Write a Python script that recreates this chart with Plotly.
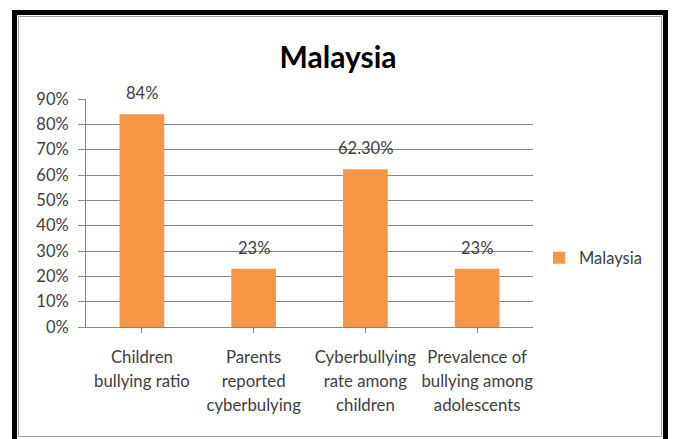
import plotly.graph_objects as go

# Survey figures for Malaysia
categories = [
    "Children<br>bullying ratio",
    "Parents<br>reported<br>cyberbulying",
    "Cyberbullying<br>rate among<br>children",
    "Prevalence of<br>bullying among<br>adolescents",
]
values = [0.84, 0.23, 0.623, 0.23]
value_labels = ["84%", "23%", "62.30%", "23%"]
series_name = "Malaysia"
chart_title = "Malaysia"

W, H = 677, 439
L, R, T, B = 86, 144, 99, 112

FONT = "Lato"
TEXT = "#404040"
GRID = "#868686"
ORANGE = "#F79646"


def px_x(p):
    return (p - L) / (W - L - R)


def px_y(q):
    return (H - B - q) / (H - T - B)


# wrap tick text so line spacing follows a larger outer font size
tick_text = ["<span style='font-size:16.8px'>%s</span>" % c for c in categories]

fig = go.Figure(
    go.Bar(
        x=list(range(len(categories))),
        y=values,
        name=series_name,
        marker=dict(color=ORANGE, line=dict(width=0)),
        width=0.4,
        showlegend=True,
        hoverinfo="skip",
    )
)

# value labels sitting above each bar
for i, (v, lab) in enumerate(zip(values, value_labels)):
    fig.add_annotation(
        x=i, y=v, xref="x", yref="y",
        text=lab, showarrow=False,
        xanchor="center", yanchor="bottom", yshift=9,
        font=dict(family=FONT, size=16.5, color=TEXT),
    )

fig.update_layout(
    width=W,
    height=H,
    margin=dict(l=L, r=R, t=T, b=B, autoexpand=False),
    paper_bgcolor="white",
    plot_bgcolor="white",
    font=dict(family=FONT, color=TEXT),
    title=dict(
        text="<b>%s</b>" % chart_title,
        font=dict(family=FONT, size=30, color="black"),
        x=px_x(338),
        xref="paper",
        xanchor="center",
        y=1 - 57 / H,
        yref="container",
        yanchor="middle",
    ),
    showlegend=True,
    legend=dict(
        x=px_x(539),
        xanchor="left",
        y=px_y(258),
        yanchor="middle",
        font=dict(family=FONT, size=16.5, color=TEXT),
        bgcolor="rgba(0,0,0,0)",
    ),
    bargap=0.6,
)

fig.update_xaxes(
    range=[-0.5, len(categories) - 0.5],
    tickmode="array",
    tickvals=list(range(len(categories))),
    ticktext=tick_text,
    tickfont=dict(family=FONT, size=18.5, color=TEXT),
    ticklabelstandoff=8,
    showgrid=False,
    showline=True,
    linecolor=GRID,
    linewidth=1,
    ticks="outside",
    tickson="boundaries",
    ticklen=5,
    tickcolor=GRID,
    zeroline=False,
    fixedrange=True,
)

fig.update_yaxes(
    range=[0, 0.9],
    dtick=0.1,
    tickformat=".0%",
    tickfont=dict(family=FONT, size=16.5, color=TEXT),
    ticklabelstandoff=6,
    showgrid=True,
    gridcolor=GRID,
    gridwidth=1,
    showline=True,
    linecolor=GRID,
    ticks="outside",
    ticklen=7,
    tickcolor=GRID,
    zeroline=False,
    fixedrange=True,
)

# chart frame: heavy black outline with a thin grey inner rule
fig.add_shape(
    type="rect", xref="paper", yref="paper",
    x0=px_x(14.5), x1=px_x(665.5), y0=px_y(442), y1=px_y(12.5),
    line=dict(color="black", width=5), fillcolor="rgba(0,0,0,0)", layer="below",
)
fig.add_shape(
    type="rect", xref="paper", yref="paper",
    x0=px_x(18.5), x1=px_x(661.5), y0=px_y(436.5), y1=px_y(16.5),
    line=dict(color="#A0A0A0", width=1), fillcolor="rgba(0,0,0,0)", layer="below",
)

fig.write_html("out.html")
